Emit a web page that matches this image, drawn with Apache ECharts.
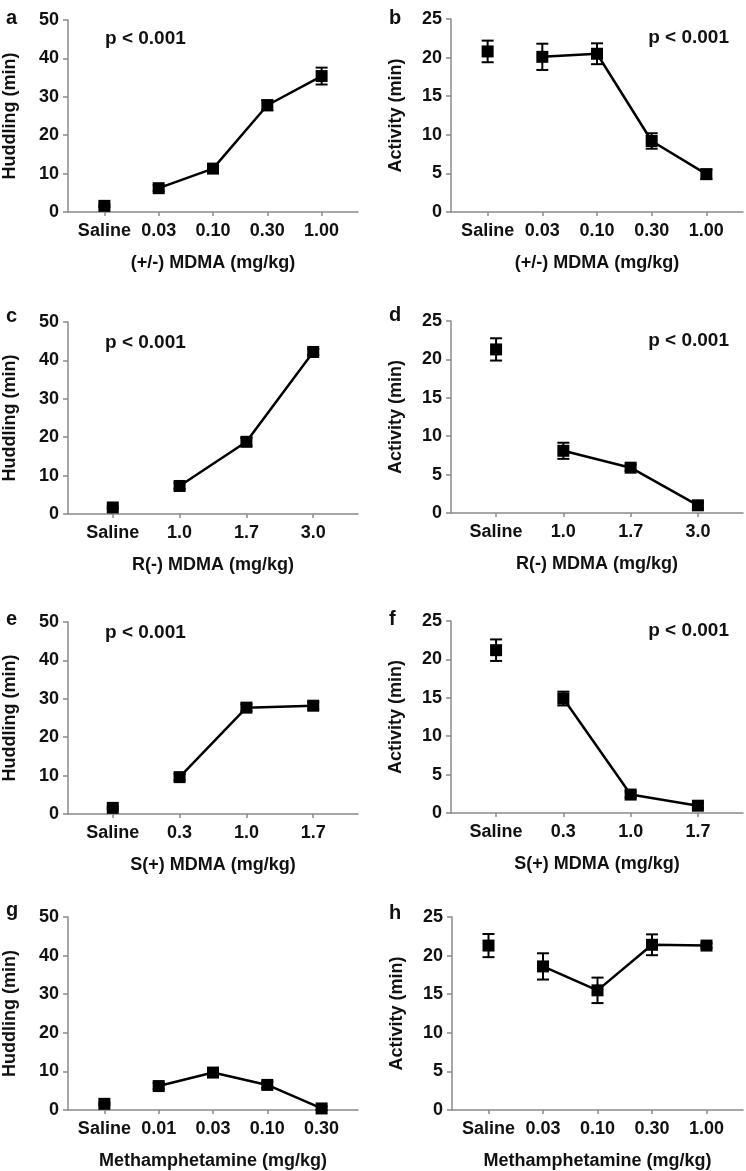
<!DOCTYPE html>
<html>
<head>
<meta charset="utf-8">
<script src="https://cdn.jsdelivr.net/npm/echarts@6/dist/echarts.min.js"></script>
<style>
    html, body {margin: 0; padding: 0; background: #fff;}
    #chart {width: 746px; height: 1171px;}
</style>
</head>
<body>
<div id="chart"></div>
<script>
// dose labels per panel
var dosesAB = ['Saline', '0.03', '0.10', '0.30', '1.00'];
var dosesCD = ['Saline', '1.0', '1.7', '3.0'];
var dosesEF = ['Saline', '0.3', '1.0', '1.7'];
var dosesG = ['Saline', '0.01', '0.03', '0.10', '0.30'];
var dosesH = ['Saline', '0.03', '0.10', '0.30', '1.00'];

// mean and SEM (min)
var huddleA = [1.6, 6.2, 11.3, 27.8, 35.4];
var huddleAErr = [0.3, 0.8, 0.9, 1.3, 2.2];
var activityB = [20.8, 20.1, 20.5, 9.2, 4.9];
var activityBErr = [1.4, 1.7, 1.35, 1.0, 0.6];
var huddleC = [1.7, 7.3, 18.8, 42.2];
var huddleCErr = [0.3, 0.8, 1.0, 0.8];
var activityD = [21.3, 8.1, 5.9, 1.0];
var activityDErr = [1.45, 1.05, 0.4, 0.4];
var huddleE = [1.6, 9.6, 27.7, 28.2];
var huddleEErr = [0.3, 0.8, 0.9, 0.9];
var activityF = [21.2, 14.9, 2.4, 0.95];
var activityFErr = [1.4, 0.9, 0.4, 0.3];
var huddleG = [1.6, 6.2, 9.7, 6.5, 0.4];
var huddleGErr = [0.3, 0.8, 0.9, 0.8, 0.5];
var activityH = [21.3, 18.6, 15.5, 21.4, 21.3];
var activityHErr = [1.5, 1.7, 1.65, 1.35, 0.3];

var FONT = 'Liberation Sans, Arial, sans-serif';
var AXIS_COLOR = '#8a8a8a';

var panels = [
    {letter: 'a', doses: dosesAB, mean: huddleA, err: huddleAErr, yName: 'Huddling (min)', yMax: 50, yStep: 10, xName: '(+/-) MDMA (mg/kg)', p: 'left'},
    {letter: 'b', doses: dosesAB, mean: activityB, err: activityBErr, yName: 'Activity (min)', yMax: 25, yStep: 5, xName: '(+/-) MDMA (mg/kg)', p: 'right'},
    {letter: 'c', doses: dosesCD, mean: huddleC, err: huddleCErr, yName: 'Huddling (min)', yMax: 50, yStep: 10, xName: 'R(-) MDMA (mg/kg)', p: 'left'},
    {letter: 'd', doses: dosesCD, mean: activityD, err: activityDErr, yName: 'Activity (min)', yMax: 25, yStep: 5, xName: 'R(-) MDMA (mg/kg)', p: 'right'},
    {letter: 'e', doses: dosesEF, mean: huddleE, err: huddleEErr, yName: 'Huddling (min)', yMax: 50, yStep: 10, xName: 'S(+) MDMA (mg/kg)', p: 'left'},
    {letter: 'f', doses: dosesEF, mean: activityF, err: activityFErr, yName: 'Activity (min)', yMax: 25, yStep: 5, xName: 'S(+) MDMA (mg/kg)', p: 'right'},
    {letter: 'g', doses: dosesG, mean: huddleG, err: huddleGErr, yName: 'Huddling (min)', yMax: 50, yStep: 10, xName: 'Methamphetamine (mg/kg)', p: null},
    {letter: 'h', doses: dosesH, mean: activityH, err: activityHErr, yName: 'Activity (min)', yMax: 25, yStep: 5, xName: 'Methamphetamine (mg/kg)', p: null}
];

// plot boxes: [left, top, width, height]
var boxes = [
    [68, 20, 290, 192], [451, 19, 292, 193],
    [68, 322, 290, 192], [451, 321, 292, 192],
    [68, 622, 290, 192], [451, 621, 292, 192],
    [68, 917, 290, 193], [452, 917, 291, 193]
];
var letterTops = [3, 3, 301, 300, 604, 604, 895, 898];
var pTops = [24, 23, 328, 326, 618, 616];

var chart = echarts.init(document.getElementById('chart'));

var grids = [], xAxes = [], yAxes = [], series = [], titles = [];

function errorBar(params, api) {
    var x = api.value(0), m = api.value(1), e = api.value(2);
    var hi = api.coord([x, m + e]);
    var lo = api.coord([x, Math.max(0, m - e)]);
    var w = 6;
    var style = {stroke: '#000', lineWidth: 2};
    return {
        type: 'group',
        children: [
            {type: 'line', shape: {x1: hi[0], y1: hi[1], x2: lo[0], y2: lo[1]}, style: style},
            {type: 'line', shape: {x1: hi[0] - w, y1: hi[1], x2: hi[0] + w, y2: hi[1]}, style: style},
            {type: 'line', shape: {x1: lo[0] - w, y1: lo[1], x2: lo[0] + w, y2: lo[1]}, style: style}
        ]
    };
}

panels.forEach(function (pn, i) {
    var b = boxes[i];
    var n = pn.doses.length;
    var idx = pn.doses.map(function (d, k) { return k; });
    var right = (i % 2 === 1);

    grids.push({left: b[0], top: b[1], width: b[2], height: b[3]});

    xAxes.push({
        gridIndex: i, type: 'value', min: -0.67, max: n - 0.33,
        axisLine: {show: true, onZero: false, lineStyle: {color: AXIS_COLOR, width: 1.5}},
        axisTick: {show: true, customValues: idx, length: 4, lineStyle: {color: AXIS_COLOR, width: 1.5}},
        axisLabel: {
            customValues: idx, margin: 10, color: '#111', fontSize: 18, fontWeight: 'bold', fontFamily: FONT,
            formatter: function (v) { return pn.doses[Math.round(v)]; }
        },
        splitLine: {show: false},
        name: pn.xName, nameLocation: 'middle', nameGap: 42,
        nameTextStyle: {color: '#111', fontSize: 18, fontWeight: 'bold', fontFamily: FONT}
    });

    yAxes.push({
        gridIndex: i, type: 'value', min: 0, max: pn.yMax, interval: pn.yStep,
        axisLine: {show: true, onZero: false, lineStyle: {color: AXIS_COLOR, width: 1.5}},
        axisTick: {show: true, length: 5, lineStyle: {color: AXIS_COLOR, width: 1.5}},
        axisLabel: {margin: 9, color: '#111', fontSize: 18, fontWeight: 'bold', fontFamily: FONT},
        splitLine: {show: false},
        name: pn.yName, nameLocation: 'middle', nameGap: right ? 46 : 49, nameRotate: 90,
        nameTextStyle: {color: '#111', fontSize: 18, fontWeight: 'bold', fontFamily: FONT}
    });

    var errData = pn.mean.map(function (m, k) { return [k, m, pn.err[k]]; });
    var doseLine = pn.mean.slice(1).map(function (m, k) { return [k + 1, m]; });

    series.push({
        type: 'custom', xAxisIndex: i, yAxisIndex: i, renderItem: errorBar,
        data: errData, z: 2, silent: true
    });
    series.push({
        type: 'line', xAxisIndex: i, yAxisIndex: i, data: doseLine,
        symbol: 'rect', symbolSize: 12, showSymbol: true,
        lineStyle: {color: '#000', width: 2.5}, itemStyle: {color: '#000', opacity: 1},
        z: 3
    });
    series.push({
        type: 'scatter', xAxisIndex: i, yAxisIndex: i, data: [[0, pn.mean[0]]],
        symbol: 'rect', symbolSize: 12, itemStyle: {color: '#000', opacity: 1}, z: 3
    });

    titles.push({
        text: pn.letter, left: right ? 384 : 1, top: letterTops[i],
        textStyle: {color: '#111', fontSize: 20, fontWeight: 'bold', fontFamily: FONT}
    });
    if (pn.p) {
        var t = {text: 'p < 0.001', top: pTops[i], textStyle: {color: '#111', fontSize: 19, fontWeight: 'bold', fontFamily: FONT}};
        if (pn.p === 'left') { t.left = 100; } else { t.right = 12; }
        titles.push(t);
    }
});

chart.setOption({
    animation: false,
    backgroundColor: '#fff',
    title: titles,
    grid: grids,
    xAxis: xAxes,
    yAxis: yAxes,
    series: series
});
</script>
</body>
</html>
